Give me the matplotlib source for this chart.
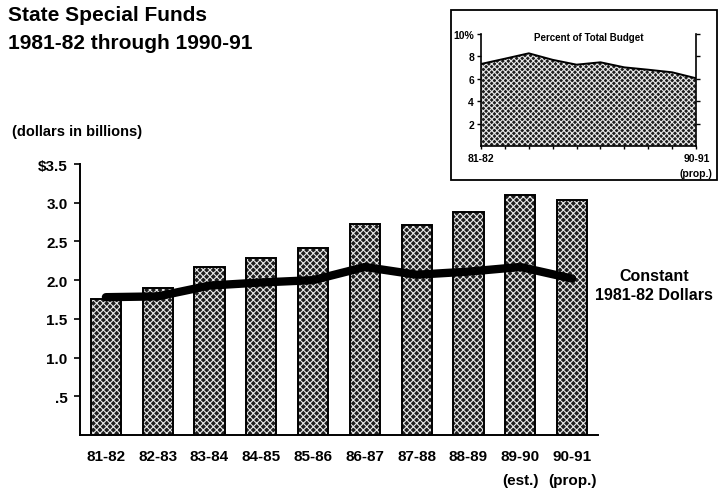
import matplotlib
matplotlib.use("Agg")
import matplotlib.pyplot as plt
from matplotlib.patches import Rectangle
import numpy as np

plt.rcParams['font.family'] = ['Liberation Sans', 'DejaVu Sans']
plt.rcParams['font.weight'] = 'bold'
plt.rcParams['hatch.linewidth'] = 0.8

# Data
years = ["81-82", "82-83", "83-84", "84-85", "85-86",
         "86-87", "87-88", "88-89", "89-90", "90-91"]
year_notes = ["", "", "", "", "", "", "", "", "(est.)", "(prop.)"]
current_dollars = [1.76, 1.90, 2.17, 2.29, 2.42, 2.73, 2.71, 2.88, 3.10, 3.03]
constant_dollars = [1.78, 1.79, 1.93, 1.97, 2.00, 2.17, 2.07, 2.11, 2.17, 2.02]
pct_of_budget = [7.33, 7.8, 8.28, 7.7, 7.27, 7.48, 7.03, 6.82, 6.59, 6.06]
y_ticks = [0.5, 1.0, 1.5, 2.0, 2.5, 3.0, 3.5]
y_tick_labels = [".5", "1.0", "1.5", "2.0", "2.5", "3.0", "$3.5"]
inset_ticks = [2, 4, 6, 8, 10]
inset_tick_labels = ["2", "4", "6", "8", "10%"]

W, H = 720, 489
fig = plt.figure(figsize=(W / 100, H / 100), dpi=100)

def fx(px):
    return px / W

def fy(py):
    return 1 - py / H

# Main chart
ax = fig.add_axes([fx(80), fy(436), fx(598) - fx(80), fy(165) - fy(436)])
x = np.arange(len(years))
ax.bar(x, current_dollars, width=0.58, color="#1e1e1e", edgecolor="#e8e8e8",
       hatch="xxxxx", linewidth=0, zorder=2)
ax.bar(x, current_dollars, width=0.58, fill=False, edgecolor="black",
       linewidth=1.4, zorder=3)
ax.plot(x, constant_dollars, color="black", linewidth=6, solid_capstyle="round",
        solid_joinstyle="round", zorder=4)

ax.set_xlim(-0.5, 9.5)
ax.set_ylim(0, 3.5)
ax.set_yticks(y_ticks)
ax.set_yticklabels(y_tick_labels, fontsize=11, fontweight="bold")
ax.set_xticks(x)
ax.set_xticklabels(years, fontsize=11, fontweight="bold")
ax.tick_params(axis="x", length=0, pad=10)
ax.tick_params(axis="y", length=4, width=1.2, direction="out", pad=5)
for xi, note in zip(x, year_notes):
    if note:
        ax.annotate(note, xy=(xi, 0), xycoords=("data", "axes fraction"),
                    xytext=(0, -32.5), textcoords="offset points",
                    fontsize=11, fontweight="bold", ha="center", va="center",
                    annotation_clip=False)
for s in ["top", "right"]:
    ax.spines[s].set_visible(False)
for s in ["left", "bottom"]:
    ax.spines[s].set_linewidth(1.4)

fig.text(fx(8), fy(21), "State Special Funds", fontsize=15, fontweight="bold",
         va="baseline", ha="left")
fig.text(fx(8), fy(49), "1981-82 through 1990-91", fontsize=15, fontweight="bold",
         va="baseline", ha="left")
fig.text(fx(12), fy(132), "(dollars in billions)", fontsize=10.5, fontweight="bold",
         va="center", ha="left")
fig.text(fx(654), fy(286), "Constant\n1981-82 Dollars", fontsize=11.5,
         fontweight="bold", ha="center", va="center", linespacing=1.35)

# Inset: percent of total budget
fig.patches.append(Rectangle((fx(451), fy(181)), fx(717) - fx(451), fy(11) - fy(181),
                             transform=fig.transFigure, fill=False,
                             edgecolor="black", linewidth=1.3))
ai = fig.add_axes([fx(481), fy(147.3), fx(696) - fx(481), fy(35) - fy(147.3)])
ai.fill_between(x, pct_of_budget, 0, facecolor="#1e1e1e", edgecolor="#e8e8e8",
                hatch="xxxxxx", linewidth=0)
ai.plot(x, pct_of_budget, color="black", linewidth=1.4)
ai.set_xlim(0, 9)
ai.set_ylim(0, 10)
ai.set_yticks(inset_ticks)
ai.set_yticklabels(inset_tick_labels, fontsize=7.5, fontweight="bold")
ai.set_xticks(x)
ai.set_xticklabels([])
ai.tick_params(axis="x", length=2, width=1, direction="out")
ai.tick_params(axis="y", length=3, width=1, direction="out", pad=2,
               right=True)
ai.spines["top"].set_visible(False)
for s in ["left", "right", "bottom"]:
    ai.spines[s].set_linewidth(1.2)
ai.text(0.5, 0.97, "Percent of Total Budget", transform=ai.transAxes,
        fontsize=7, fontweight="bold", ha="center", va="center")
fig.text(fx(481), fy(159), "81-82", fontsize=7.5, fontweight="bold",
         ha="center", va="center")
fig.text(fx(697), fy(159), "90-91", fontsize=7.5, fontweight="bold",
         ha="center", va="center")
fig.text(fx(696), fy(174), "(prop.)", fontsize=7.5, fontweight="bold",
         ha="center", va="center")

fig.savefig("out.png", dpi=100)
